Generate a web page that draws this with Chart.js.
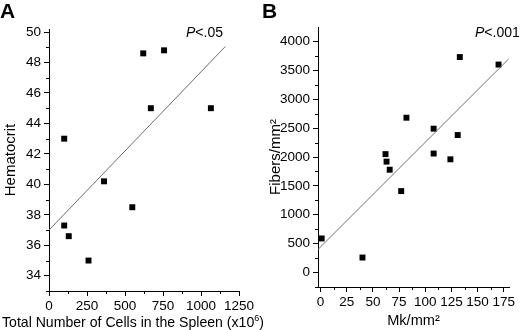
<!DOCTYPE html>
<html>
<head>
<meta charset="utf-8">
<script src="https://cdn.jsdelivr.net/npm/chart.js@4.4.1/dist/chart.umd.min.js"></script>
<style>
  html, body { margin:0; padding:0; background:#fff; }
  #wrap { position:relative; width:520px; height:330px; background:#fff; overflow:hidden;
          font-family:"Liberation Sans", Arial, Helvetica, sans-serif; color:#000; }
  canvas { position:absolute; top:0; }
  .lbl { position:absolute; white-space:nowrap; line-height:14px; font-size:14px; }
  .panel { position:absolute; font-weight:bold; font-size:21px; line-height:21px; }
</style>
</head>
<body>
<div id="wrap">
  <canvas id="cA" width="260" height="330" style="left:0"></canvas>
  <canvas id="cB" width="260" height="330" style="left:260px"></canvas>
  <div class="panel" style="left:0px;top:0px">A</div>
  <div class="panel" style="left:262px;top:0px">B</div>
  <div class="lbl" style="left:186px;top:25px"><i>P</i>&lt;.05</div>
  <div class="lbl" style="left:475px;top:25px"><i>P</i>&lt;.001</div>
  <div class="lbl" style="left:2px;top:315px;font-size:14.1px">Total Number of Cells in the Spleen (x10<sup style="font-size:9px;vertical-align:6px;line-height:0">6</sup>)</div>
</div>
<script>
// ---------- Panel A data ----------
const cellsA = [100, 620, 757, 670, 1065, 362, 548, 100, 130, 260];
const hematocritA = [43, 48.6, 48.8, 45, 45, 40.2, 38.5, 37.3, 36.6, 35];
const fitAx = [0, 1160];
const fitAy = [37, 49.05];
const xTicksA = [0, 250, 500, 750, 1000, 1250];
const yTicksA = [34, 36, 38, 40, 42, 44, 46, 48, 50];

// ---------- Panel B data ----------
const mkB = [133, 170, 82, 108, 131, 108, 62, 63, 124, 66, 77, 1, 40];
const fibersB = [3730, 3600, 2680, 2490, 2380, 2060, 2050, 1920, 1960, 1780, 1410, 590, 260];
const fitBx = [-2.5, 179.5];
const fitBy = [400, 3694];
const xTicksB = [0, 25, 50, 75, 100, 125, 150, 175];
const yTicksB = [0, 500, 1000, 1500, 2000, 2500, 3000, 3500, 4000];

const FONT = '"Liberation Sans", Arial, Helvetica, sans-serif';

function pts(xs, ys) { return xs.map((x, i) => ({ x: x, y: ys[i] })); }

// minor ticks drawn through the scales
const minorTicks = {
  id: 'minorTicks',
  afterDraw(chart, args, opts) {
    const ctx = chart.ctx;
    ctx.save();
    ctx.strokeStyle = '#000';
    ctx.lineWidth = 1;
    const xs = chart.scales.x, ys = chart.scales.y;
    const ca = chart.chartArea;
    (opts.x || []).forEach(v => {
      const px = Math.round(xs.getPixelForValue(v)) + 0.5;
      ctx.beginPath(); ctx.moveTo(px, ca.bottom); ctx.lineTo(px, ca.bottom + 3); ctx.stroke();
    });
    (opts.y || []).forEach(v => {
      const py = Math.round(ys.getPixelForValue(v)) + 0.5;
      ctx.beginPath(); ctx.moveTo(ca.left, py); ctx.lineTo(ca.left - 3, py); ctx.stroke();
    });
    ctx.restore();
  }
};

function mids(arr) {
  const out = [];
  for (let i = 0; i < arr.length - 1; i++) out.push((arr[i] + arr[i + 1]) / 2);
  return out;
}

function makeChart(id, cfg) {
  return new Chart(document.getElementById(id), {
    type: 'scatter',
    data: {
      datasets: [
        {
          type: 'line',
          data: pts(cfg.fitX, cfg.fitY),
          borderColor: '#6e6e6e',
          borderWidth: 1,
          pointRadius: 0,
          fill: false,
          tension: 0
        },
        {
          data: pts(cfg.xs, cfg.ys),
          pointStyle: 'rect',
          pointRadius: 4.2,
          pointBorderWidth: 0,
          backgroundColor: '#000',
          borderColor: '#000'
        }
      ]
    },
    options: {
      responsive: false,
      animation: false,
      devicePixelRatio: 1,
      layout: { padding: cfg.padding },
      plugins: {
        legend: { display: false },
        tooltip: { enabled: false },
        minorTicks: { x: cfg.minorX, y: cfg.minorY }
      },
      scales: {
        x: {
          type: 'linear',
          min: cfg.xMin, max: cfg.xMax,
          afterBuildTicks: s => { s.ticks = cfg.xTicks.map(v => ({ value: v })); },
          afterFit: s => { s.height = cfg.xH; },
          border: { display: true, color: '#000', width: 1 },
          grid: { drawOnChartArea: false, drawTicks: true, tickLength: 5, tickColor: '#000' },
          ticks: { color: '#000', padding: 2, maxRotation: 0, autoSkip: false,
                   callback: v => String(v),
                   font: { family: FONT, size: 13.5 } },
          title: cfg.xTitle ? { display: true, text: cfg.xTitle, color: '#000',
                   font: { family: FONT, size: 14.6 }, padding: { top: 0, bottom: 0 } } : { display: false }
        },
        y: {
          type: 'linear',
          min: cfg.yMin, max: cfg.yMax,
          afterBuildTicks: s => { s.ticks = cfg.yTicks.map(v => ({ value: v })); },
          afterFit: s => { s.width = cfg.yW; },
          border: { display: true, color: '#000', width: 1 },
          grid: { drawOnChartArea: false, drawTicks: true, tickLength: 5, tickColor: '#000' },
          ticks: { color: '#000', padding: 3, autoSkip: false,
                   callback: v => String(v),
                   font: { family: FONT, size: 13.5 } },
          title: { display: true, text: cfg.yTitle, color: '#000',
                   font: { family: FONT, size: 15 }, padding: { top: cfg.yTitlePad, bottom: 0 } }
        }
      }
    },
    plugins: [minorTicks]
  });
}

makeChart('cA', {
  xs: cellsA, ys: hematocritA, fitX: fitAx, fitY: fitAy,
  xTicks: xTicksA, yTicks: yTicksA,
  minorX: mids(xTicksA), minorY: [33].concat(mids(yTicksA)),
  xMin: 0, xMax: 1250, yMin: 33, yMax: 50.2,
  yTitle: 'Hematocrit', xTitle: null, yTitlePad: 2,
  padding: { left: 0, right: 21, top: 29, bottom: 0 },
  yW: 49, xH: 39
});

makeChart('cB', {
  xs: mkB, ys: fibersB, fitX: fitBx, fitY: fitBy,
  xTicks: xTicksB, yTicks: yTicksB,
  minorX: mids(xTicksB), minorY: [-250].concat(mids(yTicksB)),
  xMin: -2.5, xMax: 180, yMin: -250, yMax: 4250,
  yTitle: 'Fibers/mm\u00B2', xTitle: 'Mk/mm\u00B2', yTitlePad: 7,
  padding: { left: 0, right: 11, top: 27, bottom: 0 },
  yW: 58, xH: 43
});
</script>
</body>
</html>
